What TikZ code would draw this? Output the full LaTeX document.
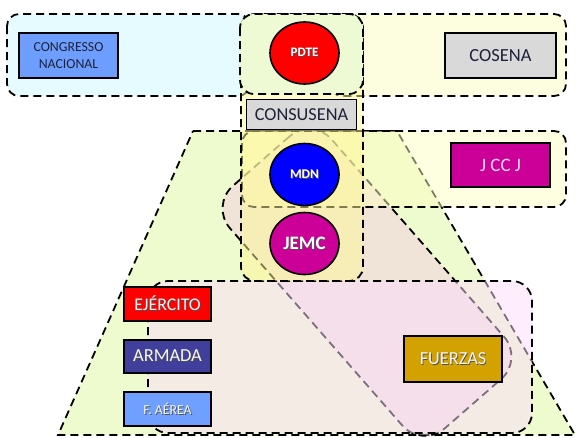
\documentclass[tikz,border=0pt]{standalone}
\usepackage{fontspec}
\setmainfont{Carlito}
\usetikzlibrary{shapes.geometric}
\definecolor{cyanfill}{HTML}{E5FBFF}
\definecolor{ytopfill}{HTML}{FDFEE0}
\definecolor{trapfill}{HTML}{EDFBCF}
\definecolor{tiltfill}{HTML}{F3CFE3}
\definecolor{botfill}{HTML}{FBDCFB}
\definecolor{jzfill}{HTML}{FDFDC1}
\definecolor{colfill}{HTML}{FFF796}
\definecolor{topcolfill}{HTML}{EEFAD3}
\definecolor{congblue}{HTML}{6D9EFF}
\definecolor{boxgrey}{HTML}{D9D9D9}
\definecolor{magentabox}{HTML}{CC0099}
\definecolor{armblue}{HTML}{403F9C}
\definecolor{aereablue}{HTML}{6FA0FF}
\definecolor{gold}{HTML}{D3A100}
\definecolor{darktext}{HTML}{1E2238}
\definecolor{lighttext}{HTML}{F6F6F6}
\definecolor{pinktext}{HTML}{F2D9EA}
\definecolor{shadowgrey}{HTML}{505050}
\tikzset{
  zone/.style={draw=black, dash pattern=on 8pt off 5pt, line width=1.8pt},
  box/.style={rectangle, draw=black, line width=1.8pt, inner sep=0pt, align=center},
  oval/.style={ellipse, draw=black, line width=1.6pt, inner sep=0pt, minimum width=69pt, minimum height=62pt, text=white, font=\bfseries},
}
\newcommand{\fs}[1]{\fontsize{#1}{#1}\selectfont}
\newcommand{\shad}[1]{\rlap{\raisebox{-0.9pt}{\hspace{0.9pt}\textcolor{shadowgrey}{#1}}}#1}
\begin{document}
\begin{tikzpicture}[x=1pt,y=-1pt]
\useasboundingbox (0,0) rectangle (577,437);
% top zones
\draw[zone, fill=cyanfill, rounded corners=12pt] (7,14) rectangle (250,96);
\draw[zone, fill=ytopfill, rounded corners=12pt] (330,14) rectangle (566,96);
% trapezoid
\draw[zone, fill=trapfill] (193,131) -- (397,131) -- (575,435) -- (58,435) -- cycle;
% tilted rounded rectangle
\begin{scope}[shift={(367,282.5)}, rotate=-48.85]
  \draw[zone, fill=tiltfill, fill opacity=0.5, rounded corners=30pt] (-161,-67.5) rectangle (161,67.5);
\end{scope}
% bottom zone
\draw[zone, fill=botfill, fill opacity=0.5, rounded corners=20pt] (148,281) rectangle (532,433);
% JCCJ zone
\draw[zone, fill=jzfill, fill opacity=0.5, rounded corners=12pt] (242,131) rectangle (566,207);
% tall column
\draw[zone, fill=colfill, fill opacity=0.5, rounded corners=14pt] (241,14) rectangle (363,281);
% top column
\draw[zone, fill=topcolfill, rounded corners=14pt] (240,14) rectangle (363,94);
% nodes
\node[box, fill=congblue, minimum width=99pt, minimum height=45pt, text=darktext, font=\fs{13.8}] (cong) at (68.5,55.5) {CONGRESSO\\[2.5pt]NACIONAL};
\node[box, fill=boxgrey, minimum width=111pt, minimum height=45pt, text=darktext, font=\fs{18.5}] (cosena) at (500.5,55.5) {COSENA};
\node[oval, fill=red, font=\bfseries\fs{13}] (pdte) at (304.5,53) {\shad{PDTE}};
\node[box, fill=boxgrey, minimum width=110pt, minimum height=30pt, text=darktext, font=\fs{18.3}] (consu) at (301.5,114.5) {CONSUSENA};
\node[oval, fill=blue, font=\bfseries\fs{13.4}] (mdn) at (304.5,174.5) {\shad{MDN}};
\node[oval, fill=magentabox, font=\bfseries\fs{19}] (jemc) at (304.5,243.5) {\shad{JEMC}};
\node[box, fill=magentabox, minimum width=99pt, minimum height=44pt, text=pinktext, font=\fs{19}] (jccj) at (500.5,165) {J CC J};
\node[box, fill=red, minimum width=87pt, minimum height=34pt, text=lighttext, font=\fs{17.8}] (ejer) at (167.5,304) {\shad{EJÉRCITO}};
\node[box, fill=armblue, minimum width=87pt, minimum height=33pt, text=lighttext, font=\fs{18.4}] (arm) at (167.5,356.5) {\shad{ARMADA}};
\node[box, fill=aereablue, minimum width=87pt, minimum height=34pt, text=lighttext, font=\fs{13.7}] (fa) at (167.5,409) {\shad{F. AÉREA}};
\node[box, fill=gold, minimum width=98pt, minimum height=46pt, text=lighttext, font=\fs{18.3}] (fue) at (453,359) {\shad{FUERZAS}};
\end{tikzpicture}
\end{document}
